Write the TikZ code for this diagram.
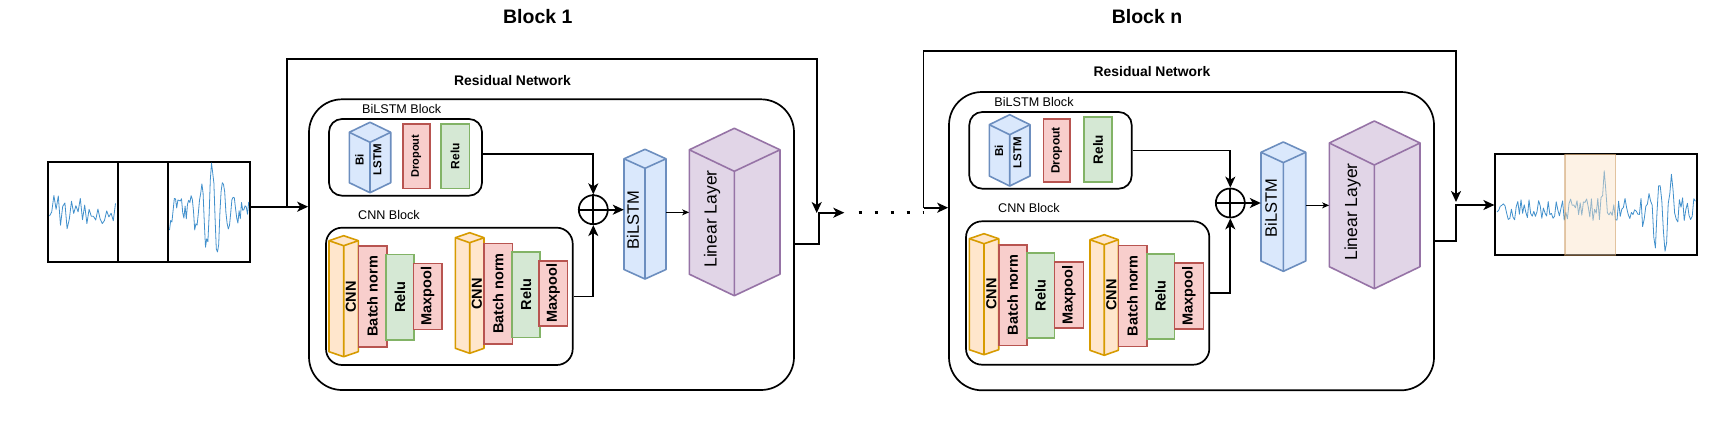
\documentclass[tikz,border=0pt]{standalone}
\usepackage{fontspec}
\setmainfont{Liberation Sans}
\usepackage{graphicx}
\usetikzlibrary{arrows.meta}
\definecolor{blueF}{HTML}{DAE8FC}\definecolor{blueD}{HTML}{6C8EBF}
\definecolor{redF}{HTML}{F8CECC}\definecolor{redD}{HTML}{B85450}
\definecolor{greenF}{HTML}{D5E8D4}\definecolor{greenD}{HTML}{82B366}
\definecolor{orF}{HTML}{FFE6CC}\definecolor{orD}{HTML}{D79B00}
\definecolor{purF}{HTML}{E1D5E7}\definecolor{purD}{HTML}{9673A6}
\definecolor{waveC}{HTML}{4190CC}
\definecolor{hlF}{HTML}{FBE3C6}\definecolor{hlD}{HTML}{C8955A}
\newcommand\lw{1.6pt}
% #1 name, #2 x1, #3 xm, #4 x2, #5 ytop, #6 d, #7 ybot, #8 colour prefix
\newcommand\isoprism[8]{%
  \path[fill=#8F, draw=#8D, line width=\lw, line join=round]
    (#3,#5) -- (#4,#5+#6) -- (#4,#7-#6) -- (#3,#7) -- (#2,#7-#6) -- (#2,#5+#6) -- cycle;
  \draw[#8D, line width=\lw, line join=round]
    (#2,#5+#6) -- (#3,#5+2*#6) -- (#4,#5+#6) (#3,#5+2*#6) -- (#3,#7);
  \node[inner sep=0pt, minimum width={(#4-#2)*1pt}, minimum height={(#7-#5)*1pt}]
    (#1) at ({(#2+#4)/2},{(#5+#7)/2}) {};}
% #1 name, #2 x1, #3 y1, #4 x2, #5 y2, #6 colour prefix, #7 font size, #8 text
\newcommand\rbox[8]{%
  \node[draw=#6D, fill=#6F, line width=\lw, inner sep=0pt,
        minimum width={(#4-#2)*1pt}, minimum height={(#5-#3)*1pt},
        font=\fontsize{#7}{#7}\selectfont\bfseries]
     (#1) at ({(#2+#4)/2},{(#3+#5)/2}) {\rotatebox{90}{#8}};}
\tikzset{
  rb/.style={draw, line width=1.7pt, fill=white, inner sep=0pt},
  conn/.style={line width=1.7pt},
  arr/.style={conn, -{Stealth[length=11pt,width=10pt,inset=3pt]}},
  tarr/.style={line width=1pt, -{Stealth[length=7pt,width=6pt,inset=2pt]}},
  wave/.style={draw=waveC, line width=0.8pt, line join=round},
  lbl/.style={inner sep=0pt, anchor=base},
  rtxt/.style={inner sep=0pt},
  plusc/.style={draw, circle, line width=1.7pt, minimum size=29pt, inner sep=0pt, fill=white},
}
\begin{document}
\begin{tikzpicture}[x=1pt,y=-1pt]
\useasboundingbox (0,0) rectangle (1729,442);
\fill[white] (0,0) rectangle (1729,442);

% titles
\node[lbl, font=\fontsize{19.5}{19.5}\selectfont\bfseries] (t1) at (537.8,23.3) {Block 1};
\node[lbl, font=\fontsize{19.5}{19.5}\selectfont\bfseries] (t2) at (1147,23.3) {Block n};

% ================= input signal =================
\node[draw, line width=1.8pt, fill=white, inner sep=0pt, minimum width=201.7pt, minimum height=100pt] (sig1) at (149.15,212) {};
\draw[line width=1.8pt] (118.3,162) -- (118.3,262) (168.3,162) -- (168.3,262);
\pgfmathsetseed{5}
\draw[wave] (49.5,216) \foreach \x in {51.7,53.9,...,117} { -- (\x,{213+(20-0.15*(\x-50))*rand}) };
\draw[wave] (169.5,230) \foreach \x in {170.7,171.9,...,249} { -- (\x,{210+9*rand+18*exp(-min(((\x-169.5)^2)/6,15))-12*exp(-min(((\x-178)^2)/10,15))-44*exp(-min(((\x-214)^2)/300,15))*cos(33*(\x-201))}) };

% ================= Block 1 =================
\node[rb, rounded corners=33pt, minimum width=485pt, minimum height=290.7pt] (outer1) at (551.5,244.65) {};
\node[lbl, font=\fontsize{13.9}{13.9}\selectfont\bfseries] (rn1) at (512.5,85) {Residual Network};
\node[lbl, font=\fontsize{12.6}{12.6}\selectfont] (bb1) at (401.7,113.3) {BiLSTM Block};
\node[rb, rounded corners=13pt, minimum width=153pt, minimum height=76.7pt] (bil1) at (405.5,157.35) {};
\isoprism{cubeA}{349.3}{370}{390.7}{122.3}{10}{192.7}{blue}
\node[rtxt, font=\fontsize{11.5}{11.5}\selectfont\bfseries] (biA) at (359.5,160) {\rotatebox{90}{Bi}};
\node[rtxt, font=\fontsize{11.5}{11.5}\selectfont\bfseries] (lsA) at (377.5,160) {\rotatebox{90}{LSTM}};
\rbox{dropA}{402.7}{124}{430}{188.3}{red}{11}{Dropout}
\rbox{reluA}{440.7}{124}{469.3}{188.3}{green}{12}{Relu}

\node[lbl, font=\fontsize{12.6}{12.6}\selectfont] (cb1) at (389,219.3) {CNN Block};
\node[rb, rounded corners=16pt, minimum width=246.7pt, minimum height=137.3pt] (cnn1) at (449.35,296.35) {};
\isoprism{cnnA}{329}{343.7}{358.3}{235.7}{5}{356.7}{or}
\node[rtxt, font=\fontsize{14.5}{14.5}\selectfont\bfseries] (cnnAt) at (351,297) {\rotatebox{90}{CNN}};
\rbox{bnA}{358.3}{245.7}{386.7}{346.7}{red}{14.5}{Batch norm}
\rbox{rlA}{386}{254.3}{414}{340}{green}{14.5}{Relu}
\rbox{mpA}{413.3}{263.3}{441.7}{329.3}{red}{14.5}{Maxpool}
\isoprism{cnnB}{455.3}{469.7}{484}{232.7}{5}{353.3}{or}
\node[rtxt, font=\fontsize{14.5}{14.5}\selectfont\bfseries] (cnnBt) at (477,294) {\rotatebox{90}{CNN}};
\rbox{bnB}{484}{243.3}{512.3}{344}{red}{14.5}{Batch norm}
\rbox{rlB}{511.7}{252}{540}{337.3}{green}{14.5}{Relu}
\rbox{mpB}{538.7}{260.7}{567.3}{326}{red}{14.5}{Maxpool}

\node[plusc] (plus1) at (593.3,209.7) {};
\draw[conn] (plus1.north) -- (plus1.south) (plus1.west) -- (plus1.east);
\isoprism{blA}{624}{645}{666}{149.3}{9.5}{279}{blue}
\node[rtxt, font=\fontsize{16.5}{16.5}\selectfont] (blAt) at (633,220) {\rotatebox{90}{BiLSTM}};
\isoprism{linA}{689.3}{734.3}{780}{128.3}{21.5}{295.7}{pur}
\node[rtxt, font=\fontsize{17.5}{17.5}\selectfont] (linAt) at (712,219) {\rotatebox{90}{Linear Layer}};

\draw[arr] ([yshift=3.3pt]bil1.east) -| (plus1.north);
\draw[arr] (cnn1.east) -| (plus1.south);
\draw[arr] (plus1.east) -- (plus1.east -| blA.west);
\draw[tarr] ([yshift=1.8pt]blA.east) -- ([yshift=1.8pt]blA.east -| linA.west);

% connectors block 1
\coordinate (split1) at (286.7,206.7);
\coordinate (loopR1) at (816.7,59.3);
\coordinate (j1) at (816.7,213);
\coordinate (o1) at (819.3,212.7);
\coordinate (a1) at (844.3,212.7);
\draw[arr] (sig1.east |- split1) -- (outer1.west |- split1);
\draw[arr] (split1) |- (loopR1) -- (j1);
\draw[arr] ([yshift=0.35pt]outer1.east) -| (o1) -- (a1);

% dots
\coordinate (dotsA) at (858.5,212.5);
\coordinate (dotsB) at (923,212.5);
\draw[line width=3.3pt, dash pattern=on 3.3pt off 12.7pt] (dotsA) -- (dotsB);

% ================= Block n =================
\node[rb, rounded corners=33pt, minimum width=485pt, minimum height=298.3pt] (outer2) at (1191.5,241.15) {};
\node[lbl, font=\fontsize{13.9}{13.9}\selectfont\bfseries] (rn2) at (1152,76.7) {Residual Network};
\node[lbl, font=\fontsize{12.6}{12.6}\selectfont] (bb2) at (1034,106) {BiLSTM Block};
\node[rb, rounded corners=13pt, minimum width=162.4pt, minimum height=76.7pt] (bil2) at (1050.5,150.35) {};
\isoprism{cubeB}{989.3}{1009.7}{1030}{114.7}{10}{186}{blue}
\node[rtxt, font=\fontsize{11.5}{11.5}\selectfont\bfseries] (biB) at (999,151) {\rotatebox{90}{Bi}};
\node[rtxt, font=\fontsize{11.5}{11.5}\selectfont\bfseries] (lsB) at (1017.3,152.5) {\rotatebox{90}{LSTM}};
\rbox{dropB}{1043.3}{118.7}{1070}{182}{red}{12}{Dropout}
\rbox{reluB}{1084}{117}{1112}{182}{green}{13.5}{Relu}

\node[lbl, font=\fontsize{12.6}{12.6}\selectfont] (cb2) at (1029,212) {CNN Block};
\node[rb, rounded corners=16pt, minimum width=243.3pt, minimum height=143.4pt] (cnn2) at (1087.65,293) {};
\isoprism{cnnC}{969.3}{984}{998.7}{233.7}{5}{354.7}{or}
\node[rtxt, font=\fontsize{14.5}{14.5}\selectfont\bfseries] (cnnCt) at (991.3,294) {\rotatebox{90}{CNN}};
\rbox{bnC}{998.7}{244.7}{1026.7}{345.3}{red}{14.5}{Batch norm}
\rbox{rlC}{1026.7}{253}{1054.3}{338}{green}{14.5}{Relu}
\rbox{mpC}{1054.3}{262}{1083.3}{328}{red}{14.5}{Maxpool}
\isoprism{cnnD}{1090}{1104.2}{1118.3}{234.7}{5}{355.3}{or}
\node[rtxt, font=\fontsize{14.5}{14.5}\selectfont\bfseries] (cnnDt) at (1111.3,295) {\rotatebox{90}{CNN}};
\rbox{bnD}{1118.3}{245.3}{1146.7}{346.3}{red}{14.5}{Batch norm}
\rbox{rlD}{1146.7}{253.7}{1174.3}{338.7}{green}{14.5}{Relu}
\rbox{mpD}{1174.3}{263}{1203.3}{328.7}{red}{14.5}{Maxpool}

\node[plusc] (plus2) at (1230.3,203) {};
\draw[conn] (plus2.north) -- (plus2.south) (plus2.west) -- (plus2.east);
\isoprism{blB}{1261}{1283.3}{1305.7}{142}{10.3}{271.3}{blue}
\node[rtxt, font=\fontsize{16.5}{16.5}\selectfont] (blBt) at (1271,208) {\rotatebox{90}{BiLSTM}};
\isoprism{linB}{1329.3}{1374.3}{1420}{121}{22}{288.7}{pur}
\node[rtxt, font=\fontsize{17.5}{17.5}\selectfont] (linBt) at (1352.7,212) {\rotatebox{90}{Linear Layer}};

\draw[arr] (bil2.east) -| (plus2.north);
\draw[arr] (cnn2.east) -| (plus2.south);
\draw[arr] (plus2.east) -- (plus2.east -| blB.west);
\draw[tarr] ([yshift=1.3pt]blB.east) -- ([yshift=1.3pt]blB.east -| linB.west);

% connectors block n
\coordinate (split2) at (923.5,207.7);
\coordinate (loopR2) at (1456,51);
\coordinate (j2) at (1456,202);
\coordinate (o2) at (1456,205);

% ================= output signal =================
\node[draw, line width=1.8pt, fill=white, inner sep=0pt, minimum width=202pt, minimum height=101pt] (sig2) at (1596.3,204.8) {};
\pgfmathsetseed{11}
\draw[wave] (1497,212) \foreach \x in {1498.6,1500.2,...,1696} { -- (\x,{210+12*rand-36*exp(-min(((\x-1662)/10)^2/3,15))*cos(33*(\x-1660))-28*exp(-min(((\x-1604)^2)/3,15))}) };
\node[draw=hlD, draw opacity=0.5, fill=hlF, fill opacity=0.45, line width=1.5pt, inner sep=0pt, minimum width=50.7pt, minimum height=101pt] (hl) at (1590.35,204.8) {};

\draw[arr] (split2) -- (outer2.west |- split2);
\draw[arr] (split2) |- (loopR2) -- (j2);
\draw[arr] (outer2.east) -| (o2) -- (sig2.west |- o2);
\end{tikzpicture}
\end{document}
